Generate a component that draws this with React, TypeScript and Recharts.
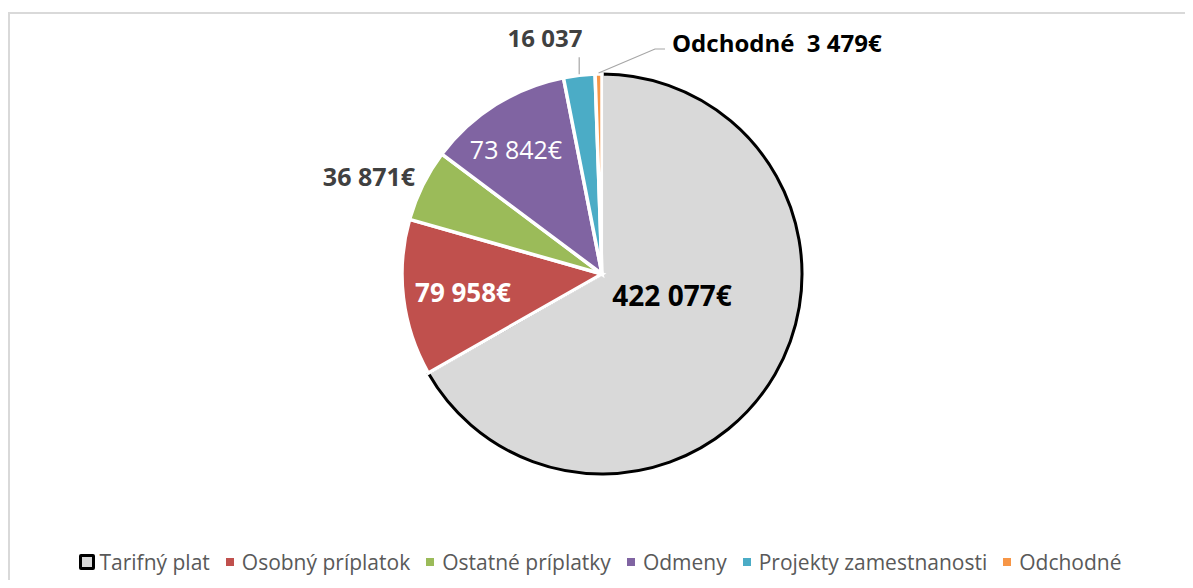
import { Cell, Legend, Pie, PieChart } from 'recharts';

const categories = ['Tarifný plat', 'Osobný príplatok', 'Ostatné príplatky', 'Odmeny', 'Projekty zamestnanosti', 'Odchodné'];
const amounts = [422077, 79958, 36871, 73842, 16037, 3479];
const labelSuffix = ['€', '€', '€', '€', '', '€'];
const labelPrefix = ['', '', '', '', '', 'Odchodné\u00a0\u00a0'];
const colors = ['#d9d9d9', '#c0504d', '#9bbb59', '#8064a2', '#4bacc6', '#f79646'];

const data = categories.map((name, i) => ({ name, value: amounts[i] }));

const FONT = '"Open Sans", "Noto Sans", sans-serif';
const RAD = Math.PI / 180;

const fmt = (v: number) => String(v).replace(/\B(?=(\d{3})+(?!\d))/g, ' ');

// label spots as fractions of the radius, relative to the pie centre
const spots = [
  { fx: 0.35, fy: 0.105, size: 28, weight: 700, fill: '#000000', anchor: 'middle' },
  { fx: -0.695, fy: 0.09, size: 26, weight: 700, fill: '#ffffff', anchor: 'middle' },
  { fx: -1.165, fy: -0.49, size: 25, weight: 700, fill: '#404040', anchor: 'middle' },
  { fx: -0.43, fy: -0.625, size: 25, weight: 400, fill: '#ffffff', anchor: 'middle' },
  { fx: -0.285, fy: -1.185, size: 24, weight: 700, fill: '#404040', anchor: 'middle' },
  { fx: 0.35, fy: -1.16, size: 24, weight: 700, fill: '#000000', anchor: 'start' },
];

const renderLabel = (props: any) => {
  const { cx, cy, outerRadius, midAngle, index } = props;
  const s = spots[index];
  const x = cx + outerRadius * s.fx;
  const y = cy + outerRadius * s.fy;
  const ax = cx + outerRadius * Math.cos(-midAngle * RAD);
  const ay = cy + outerRadius * Math.sin(-midAngle * RAD);
  let leader = null;
  if (index === 4) {
    leader = <path d={`M${ax},${ay - 1}L${ax},${ay - 18}`} stroke="#a6a6a6" strokeWidth={1.2} fill="none" />;
  }
  if (index === 5) {
    leader = (
      <path d={`M${ax},${ay - 1}L${x - 17},${y + 7}L${x - 7},${y + 7}`} stroke="#a6a6a6" strokeWidth={1.2} fill="none" />
    );
  }
  return (
    <g>
      {leader}
      <text
        x={x}
        y={y}
        textAnchor={s.anchor}
        dominantBaseline="central"
        fill={s.fill}
        fontSize={s.size}
        fontWeight={s.weight}
        fontFamily={FONT}
      >
        {labelPrefix[index] + fmt(amounts[index]) + labelSuffix[index]}
      </text>
    </g>
  );
};

const LegendBox = () => (
  <div
    style={{
      display: 'flex',
      justifyContent: 'center',
      alignItems: 'center',
      fontFamily: FONT,
      fontSize: 21,
      color: '#595959',
      whiteSpace: 'nowrap',
    }}
  >
    {categories.map((c, i) => (
      <span key={c} style={{ display: 'flex', alignItems: 'center', marginRight: i < 5 ? 16 : 0 }}>
        {i === 0 ? (
          <span style={{ width: 10, height: 10, border: '3px solid #000', background: colors[0], borderRadius: 2 }} />
        ) : (
          <span style={{ width: 8, height: 8, background: colors[i] }} />
        )}
        <span style={{ marginLeft: i === 0 ? 4 : 8 }}>{c}</span>
      </span>
    ))}
  </div>
);

export default function App() {
  return (
    <div
      style={{
        marginTop: 4,
        width: 1177,
        height: 568,
        boxSizing: 'border-box',
        borderTop: '2px solid #d9d9d9',
        borderLeft: '2px solid #d9d9d9',
        background: '#fff',
      }}
    >
      <PieChart width={1175} height={566} margin={{ top: 0, right: 0, bottom: 0, left: 0 }}>
        <Pie
          data={data}
          dataKey="value"
          nameKey="name"
          cx={592}
          cy={260}
          outerRadius={200}
          startAngle={90}
          endAngle={-270}
          label={renderLabel}
          labelLine={false}
          isAnimationActive={false}
        >
          {data.map((d, i) => (
            <Cell
              key={d.name}
              fill={colors[i]}
              stroke={i === 0 ? '#000000' : '#ffffff'}
              strokeWidth={i === 0 ? 3 : 3.5}
            />
          ))}
        </Pie>
        <Legend content={<LegendBox />} wrapperStyle={{ left: 6, bottom: 4, width: 1169 }} />
      </PieChart>
    </div>
  );
}
